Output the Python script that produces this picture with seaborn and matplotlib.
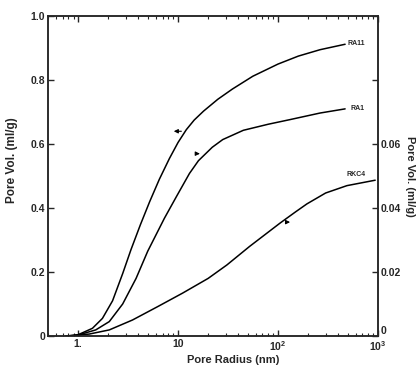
import numpy as np
import pandas as pd
import matplotlib
matplotlib.use('Agg')
import matplotlib.pyplot as plt
import seaborn as sns
from matplotlib.ticker import FixedLocator, FixedFormatter, LogLocator, NullFormatter

# Curve data (pore radius in nm, cumulative pore volume in ml/g)
ra11_r = [0.78, 1.0, 1.39, 1.75, 2.21, 2.79, 3.38, 4.2, 5.2, 6.5, 8.2, 10, 12.1, 14.5, 18, 25, 35, 56, 100, 160, 264, 470]
ra11_v = [0.0, 0.004, 0.024, 0.055, 0.11, 0.195, 0.27, 0.348, 0.42, 0.49, 0.555, 0.605, 0.645, 0.675, 0.703, 0.74, 0.772, 0.812, 0.85, 0.875, 0.895, 0.912]

ra1_r = [0.85, 1.0, 1.5, 2.05, 2.79, 3.8, 4.97, 7.3, 9.6, 13, 16, 22, 28, 45, 80, 130, 264, 470]
ra1_v = [0.0, 0.003, 0.019, 0.045, 0.10, 0.18, 0.265, 0.368, 0.435, 0.508, 0.548, 0.59, 0.614, 0.643, 0.662, 0.676, 0.697, 0.71]

# RKC4 belongs to the right-hand axis
rkc4_r = [0.75, 1.0, 1.29, 2.05, 3.5, 6.27, 11.1, 20, 30.8, 52, 105, 150, 195, 300, 490, 940]
rkc4_v = [0.0, 0.0003, 0.0006, 0.0019, 0.005, 0.0092, 0.0134, 0.018, 0.0222, 0.028, 0.0353, 0.0388, 0.0413, 0.0447, 0.047, 0.0487]

x_ticks = [1, 10, 100, 1000]
x_labels = ['1.', '10', r'$\mathbf{10^2}$', r'$\mathbf{10^3}$']
left_ticks = [0, 0.2, 0.4, 0.6, 0.8, 1.0]
left_labels = ['0', '0.2', '0.4', '0.6', '0.8', '1.0']
right_ticks = [0, 0.02, 0.04, 0.06, 0.08, 0.10]
right_labels = ['0', '0.02', '0.04', '0.06', '', '']

sns.set_style('ticks')
plt.rcParams['font.family'] = ['Liberation Sans', 'DejaVu Sans']
plt.rcParams['font.weight'] = 'bold'
plt.rcParams['mathtext.fontset'] = 'custom'
plt.rcParams['mathtext.bf'] = 'Liberation Sans:bold'

df_ra11 = pd.DataFrame({'r': ra11_r, 'v': ra11_v})
df_ra1 = pd.DataFrame({'r': ra1_r, 'v': ra1_v})
df_rkc4 = pd.DataFrame({'r': rkc4_r, 'v': rkc4_v})

fig = plt.figure(figsize=(4.18, 3.66), dpi=100)
ax = fig.add_axes([0.115, 0.082, 0.789, 0.874])

sns.lineplot(data=df_ra11, x='r', y='v', color='black', lw=1.1, ax=ax)
sns.lineplot(data=df_ra1, x='r', y='v', color='black', lw=1.1, ax=ax)

ax.set_xscale('log')
ax.set_xlim(0.5, 1000)
ax.set_ylim(0, 1.0)
ax.xaxis.set_major_locator(FixedLocator(x_ticks))
ax.xaxis.set_major_formatter(FixedFormatter(x_labels))
ax.xaxis.set_minor_locator(LogLocator(base=10, subs=np.arange(2, 10)))
ax.xaxis.set_minor_formatter(NullFormatter())
ax.yaxis.set_major_locator(FixedLocator(left_ticks))
ax.yaxis.set_major_formatter(FixedFormatter(left_labels))
ax.tick_params(axis='both', which='major', direction='in', length=4, width=1,
               labelsize=7.5, top=True, pad=2)
ax.tick_params(axis='x', which='minor', direction='in', length=2.5, width=0.8, top=True)
for s in ax.spines.values():
    s.set_linewidth(1.1)

ax.set_xlabel('Pore Radius (nm)', fontsize=8, fontweight='bold')
ax.set_ylabel('Pore Vol. (ml/g)', fontsize=8.5, fontweight='bold')
ax.xaxis.set_label_coords(0.56, -0.06)
ax.yaxis.set_label_coords(-0.09, 0.55)

ax2 = ax.twinx()
sns.lineplot(data=df_rkc4, x='r', y='v', color='black', lw=1.1, ax=ax2)
ax2.set_ylim(0, 0.1)
ax2.yaxis.set_major_locator(FixedLocator(right_ticks))
ax2.yaxis.set_major_formatter(FixedFormatter(right_labels))
ax2.tick_params(axis='y', direction='in', length=4, width=1, labelsize=7.5, pad=2)
ax2.get_yticklabels()[0].set_va('bottom')
ax2.set_ylabel('Pore Vol. (ml/g)', fontsize=8, fontweight='bold', rotation=270)
ax2.yaxis.set_label_coords(1.112, 0.5)
for s in ax2.spines.values():
    s.set_linewidth(1.1)

# curve names
ax.text(500, 0.915, 'RA11', fontsize=5, fontweight='bold', va='center')
ax.text(530, 0.712, 'RA1', fontsize=5, fontweight='bold', va='center')
ax2.text(480, 0.0505, 'RKC4', fontsize=5, fontweight='bold', va='center')

# arrows showing which axis each curve belongs to
arrow = dict(arrowstyle='-|>', color='black', lw=0.8, mutation_scale=6)
ax.annotate('', xy=(8.5, 0.64), xytext=(11.5, 0.64), arrowprops=arrow)
ax.annotate('', xy=(17.6, 0.57), xytext=(14.7, 0.57), arrowprops=arrow)
ax2.annotate('', xy=(141, 0.0356), xytext=(112, 0.0356), arrowprops=arrow)

fig.savefig('out.png', dpi=100)
